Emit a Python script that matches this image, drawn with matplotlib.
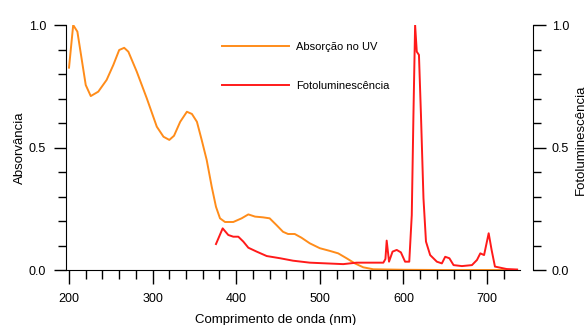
import matplotlib
matplotlib.use('Agg')
import matplotlib.pyplot as plt
from matplotlib.ticker import MultipleLocator

plt.rcParams['font.family'] = ['Liberation Sans', 'DejaVu Sans']

# absorption spectrum (UV)
abs_wl = [200, 205, 210, 215, 220, 226, 235, 245, 253, 260, 266, 271, 281, 293,
          305, 313, 320, 325.6, 333, 341, 347, 353, 358.7, 364.7, 370.7, 375.8,
          380.6, 386.6, 396.5, 406.5, 414.5, 422.5, 432, 440, 448, 456, 462,
          470, 478, 488, 500, 512, 522, 532, 542, 552, 564, 600, 650, 736]
abs_val = [0.826, 1.0, 0.973, 0.864, 0.755, 0.710, 0.728, 0.776, 0.837, 0.898,
           0.907, 0.891, 0.810, 0.701, 0.585, 0.544, 0.531, 0.548, 0.605, 0.646,
           0.637, 0.605, 0.531, 0.449, 0.340, 0.258, 0.211, 0.196, 0.196, 0.211,
           0.227, 0.218, 0.215, 0.211, 0.184, 0.156, 0.147, 0.147, 0.132, 0.109,
           0.089, 0.078, 0.068, 0.048, 0.027, 0.011, 0.003, 0.001, 0.0, 0.0]

# photoluminescence spectrum
pl_wl = [375.8, 383.8, 390.5, 396.5, 402.5, 408.5, 414.5, 424.5, 436.5, 452.5,
         468, 488, 508, 528, 544, 576, 578.5, 580, 582.8, 587, 592, 597, 602,
         607, 610, 612, 614, 616, 618.6, 621, 624, 627, 632, 640, 646, 650, 655,
         660, 670, 682, 688, 692, 696.5, 702, 705.5, 709.5, 723.5, 736]
pl_val = [0.106, 0.170, 0.143, 0.136, 0.136, 0.116, 0.091, 0.075, 0.057, 0.048,
          0.038, 0.030, 0.027, 0.024, 0.030, 0.030, 0.045, 0.120, 0.034, 0.075,
          0.082, 0.072, 0.034, 0.034, 0.224, 0.633, 1.0, 0.891, 0.878, 0.633,
          0.293, 0.116, 0.061, 0.034, 0.027, 0.054, 0.048, 0.020, 0.016, 0.020,
          0.041, 0.068, 0.061, 0.150, 0.082, 0.014, 0.004, 0.002]

fig = plt.figure(figsize=(5.87, 3.25), dpi=100)
ax = fig.add_axes([0.1116, 0.1692, 0.7743, 0.7538])
ax2 = ax.twinx()

l1, = ax.plot(abs_wl, abs_val, color='#ff8c1a', lw=1.4, label='Absorção no UV')
l2, = ax2.plot(pl_wl, pl_val, color='#ff1a1a', lw=1.4, label='Fotoluminescência')

for a in (ax, ax2):
    a.set_xlim(195.8, 739.5)
    a.set_ylim(0, 1)
    a.spines['top'].set_visible(False)
    a.yaxis.set_major_locator(MultipleLocator(0.5))
    a.yaxis.set_minor_locator(MultipleLocator(0.1))
    a.tick_params(which='major', length=9, width=1, labelsize=9, pad=5)
    a.tick_params(which='minor', length=5.5, width=1)
    a.yaxis.set_major_formatter(plt.FormatStrFormatter('%.1f'))

ax.spines['right'].set_visible(False)
ax2.spines['left'].set_visible(False)
ax2.spines['bottom'].set_visible(False)
ax2.spines['right'].set_position(('outward', 9))
ax.xaxis.set_major_locator(MultipleLocator(100))
ax.xaxis.set_minor_locator(MultipleLocator(20))
ax.tick_params(axis='x', which='major', length=10, pad=6.5)
ax.tick_params(axis='x', which='minor', length=6.5)

ax.set_xlabel('Comprimento de onda (nm)', fontsize=9.5)
ax.xaxis.set_label_coords(0.462, -0.178)
ax.set_ylabel('Absorvância', fontsize=9.5)
ax.yaxis.set_label_coords(-0.088, 0.5)
ax2.set_ylabel('Fotoluminescência', fontsize=9.5)
ax2.yaxis.set_label_coords(1.121, 0.53)

ax.legend(handles=[l1, l2], loc='upper left', bbox_to_anchor=(0.322, 0.97),
          frameon=False, fontsize=8, handlelength=6.0, labelspacing=2.6,
          handletextpad=0.7)

fig.savefig('out.png', dpi=100)
